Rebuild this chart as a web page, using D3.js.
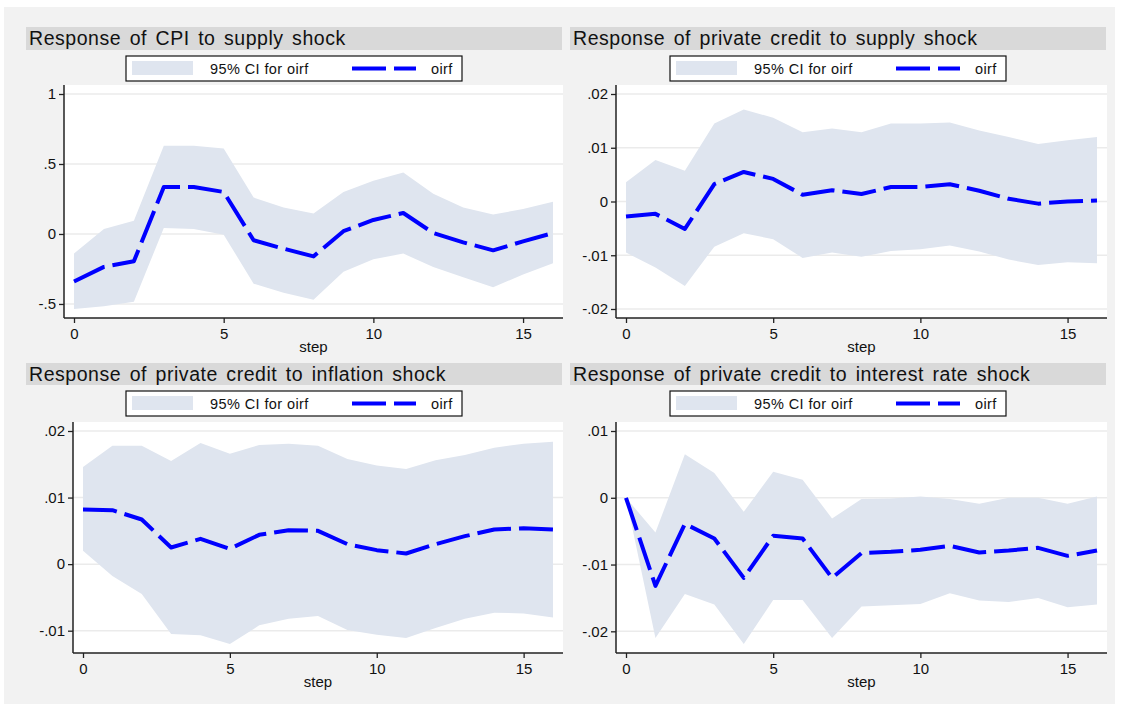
<!DOCTYPE html>
<html>
<head>
<meta charset="utf-8">
<script src="https://cdn.jsdelivr.net/npm/d3@7/dist/d3.min.js"></script>
<style>
  body { margin: 0; background: #ffffff; }
  svg { display: block; }
  text { font-family: "Liberation Sans", Arial, sans-serif; fill: #111; }
</style>
</head>
<body>
<div id="chart"></div>
<script>
// Data
var steps = [0, 1, 2, 3, 4, 5, 6, 7, 8, 9, 10, 11, 12, 13, 14, 15, 16];
var xTicks = [0, 5, 10, 15];

var titles = [
  "Response of CPI to supply shock",
  "Response of private credit to supply shock",
  "Response of private credit to inflation shock",
  "Response of private credit to interest rate shock"
];
var legendLabels = ["95% CI for oirf", "oirf"];
var xAxisTitle = "step";

// CPI to supply shock
var cpiSupplyOirf  = [-0.34, -0.235, -0.195, 0.335, 0.335, 0.30, -0.045, -0.105, -0.16, 0.02, 0.10, 0.15, 0.007, -0.06, -0.117, -0.053, 0.007];
var cpiSupplyLower = [-0.536, -0.517, -0.484, 0.043, 0.036, -0.005, -0.355, -0.42, -0.47, -0.27, -0.18, -0.14, -0.236, -0.31, -0.38, -0.29, -0.21];
var cpiSupplyUpper = [-0.14, 0.035, 0.095, 0.63, 0.63, 0.61, 0.26, 0.19, 0.147, 0.30, 0.38, 0.44, 0.288, 0.19, 0.14, 0.178, 0.23];
var cpiTicks = [-0.5, 0, 0.5, 1];
var cpiTickLabels = ["-.5", "0", ".5", "1"];

// private credit to supply shock
var creditSupplyOirf  = [-0.0028, -0.0023, -0.0051, 0.00325, 0.0055, 0.0042, 0.00125, 0.0021, 0.0014, 0.0027, 0.0027, 0.0032, 0.002, 0.0005, -0.0004, 0.0, 0.0002];
var creditSupplyLower = [-0.0095, -0.0123, -0.0157, -0.0084, -0.0059, -0.007, -0.0105, -0.0095, -0.0103, -0.0092, -0.0089, -0.0082, -0.0093, -0.0108, -0.0118, -0.0113, -0.0115];
var creditSupplyUpper = [0.0036, 0.0077, 0.0057, 0.0145, 0.0171, 0.0156, 0.0129, 0.0136, 0.0129, 0.0145, 0.0145, 0.0147, 0.0132, 0.012, 0.0107, 0.0114, 0.012];
var creditSupplyTicks = [-0.02, -0.01, 0, 0.01, 0.02];
var creditSupplyTickLabels = ["-.02", "-.01", "0", ".01", ".02"];

// private credit to inflation shock
var creditInflationOirf  = [0.0082, 0.0081, 0.0067, 0.0025, 0.0038, 0.0023, 0.0044, 0.0051, 0.005, 0.003, 0.0021, 0.0016, 0.003, 0.0042, 0.0052, 0.0054, 0.0052];
var creditInflationLower = [0.002, -0.0018, -0.0045, -0.0105, -0.0107, -0.012, -0.0092, -0.0082, -0.0078, -0.0099, -0.0106, -0.0111, -0.0096, -0.0082, -0.0073, -0.0074, -0.008];
var creditInflationUpper = [0.0146, 0.0178, 0.0178, 0.0155, 0.0182, 0.0166, 0.0179, 0.0181, 0.0178, 0.0158, 0.0148, 0.0143, 0.0156, 0.0164, 0.0175, 0.0181, 0.0184];
var creditInflationTicks = [-0.01, 0, 0.01, 0.02];
var creditInflationTickLabels = ["-.01", "0", ".01", ".02"];

// private credit to interest rate shock
var creditRateOirf  = [0, -0.0132, -0.0039, -0.0061, -0.012, -0.0057, -0.0061, -0.012, -0.0083, -0.0081, -0.0078, -0.0072, -0.0082, -0.0079, -0.0075, -0.0087, -0.0079];
var creditRateLower = [0, -0.021, -0.0144, -0.016, -0.0219, -0.0153, -0.0153, -0.021, -0.0163, -0.0161, -0.0159, -0.0143, -0.0154, -0.0156, -0.015, -0.0164, -0.016];
var creditRateUpper = [0, -0.0052, 0.0065, 0.0037, -0.0021, 0.0039, 0.0027, -0.0031, -0.0002, -0.0001, 0.0002, -0.0002, -0.0009, 0, 0, -0.0009, 0.0002];
var creditRateTicks = [-0.02, -0.01, 0, 0.01];
var creditRateTickLabels = ["-.02", "-.01", "0", ".01"];

// Layout
var fullWidth = 1125;
var fullHeight = 704;
var bandColor = "#dfe5ef";
var lineColor = "#0000ff";
var dashPattern = "34,8";

var panelBoxes = [
  { x0: 26,  x1: 562,  titleY: 27,  titleH: 23, legendY: 56,  axisX: 64,  plotTop: 85,  plotBottom: 318 },
  { x0: 570, x1: 1106, titleY: 27,  titleH: 23, legendY: 56,  axisX: 616, plotTop: 85,  plotBottom: 318 },
  { x0: 26,  x1: 562,  titleY: 363, titleH: 22, legendY: 391, axisX: 73,  plotTop: 422, plotBottom: 653 },
  { x0: 570, x1: 1106, titleY: 363, titleH: 22, legendY: 391, axisX: 616, plotTop: 422, plotBottom: 653 }
];

function DrawPanel(svg, box, title, oirf, lower, upper, ticks, tickLabels) {
  var g = svg.append('g');
  var plotLeft = box.axisX;
  var plotRight = box.x1 + 1;
  var cx = (box.x0 + box.x1) / 2;

  // Title band
  g.append('rect')
    .attr('x', box.x0).attr('y', box.titleY)
    .attr('width', box.x1 - box.x0).attr('height', box.titleH)
    .attr('fill', '#d9d9d9');
  g.append('text')
    .attr('x', box.x0 + 3)
    .attr('y', box.titleY + 18)
    .style('font-size', '19.5px')
    .style('letter-spacing', '0.55px')
    .style('word-spacing', '2.5px')
    .text(title);

  // Legend
  var legW = 336, legH = 25;
  var leg = g.append('g')
    .attr('transform', 'translate(' + (cx - legW / 2) + ',' + box.legendY + ')');
  leg.append('rect')
    .attr('width', legW).attr('height', legH)
    .attr('fill', '#ffffff').attr('stroke', '#111').attr('stroke-width', 1.2);
  leg.append('rect')
    .attr('x', 6).attr('y', 5).attr('width', 61).attr('height', 14)
    .attr('fill', bandColor);
  leg.append('text')
    .attr('x', 84).attr('y', 17.5)
    .style('font-size', '14.5px').style('letter-spacing', '0.4px')
    .text(legendLabels[0]);
  leg.append('line')
    .attr('x1', 226).attr('x2', 290).attr('y1', 12.5).attr('y2', 12.5)
    .attr('stroke', lineColor).attr('stroke-width', 4)
    .attr('stroke-dasharray', dashPattern);
  leg.append('text')
    .attr('x', 305).attr('y', 17.5)
    .style('font-size', '14.5px').style('letter-spacing', '0.4px')
    .text(legendLabels[1]);

  // Plot region
  g.append('rect')
    .attr('x', plotLeft).attr('y', box.plotTop)
    .attr('width', plotRight - plotLeft).attr('height', box.plotBottom - box.plotTop)
    .attr('fill', '#ffffff');

  var xScale = d3.scaleLinear()
    .domain([steps[0], steps[steps.length - 1]])
    .range([plotLeft + 10, plotRight - 10]);
  var yScale = d3.scaleLinear()
    .domain(d3.extent(ticks.concat(lower, upper)))
    .range([box.plotBottom - 9, box.plotTop + 9]);

  // grid lines
  g.selectAll('.grid')
    .data(ticks)
    .enter()
    .append('line')
      .attr('x1', plotLeft).attr('x2', plotRight)
      .attr('y1', function(d) { return yScale(d); })
      .attr('y2', function(d) { return yScale(d); })
      .attr('stroke', '#ebebeb').attr('stroke-width', 1.5);

  // CI band
  var area = d3.area()
    .x(function(d, i) { return xScale(steps[i]); })
    .y0(function(d, i) { return yScale(lower[i]); })
    .y1(function(d, i) { return yScale(upper[i]); });
  g.append('path')
    .datum(steps)
    .attr('d', area)
    .attr('fill', bandColor);

  // oirf line
  var line = d3.line()
    .x(function(d, i) { return xScale(steps[i]); })
    .y(function(d) { return yScale(d); });
  g.append('path')
    .datum(oirf)
    .attr('d', line)
    .attr('fill', 'none')
    .attr('stroke', lineColor)
    .attr('stroke-width', 4)
    .attr('stroke-linejoin', 'round')
    .attr('stroke-dasharray', dashPattern);

  // axes
  var yAxis = d3.axisLeft(yScale)
    .tickValues(ticks)
    .tickFormat(function(d, i) { return tickLabels[i]; })
    .tickSize(5).tickSizeOuter(0).tickPadding(3);
  var yg = g.append('g')
    .attr('transform', 'translate(' + plotLeft + ',0)')
    .call(yAxis);

  var xAxis = d3.axisBottom(xScale)
    .tickValues(xTicks)
    .tickSize(5).tickSizeOuter(0).tickPadding(5);
  var xg = g.append('g')
    .attr('transform', 'translate(0,' + box.plotBottom + ')')
    .call(xAxis);

  [yg, xg].forEach(function(ax) {
    ax.select('.domain').remove();
    ax.selectAll('.tick line').attr('stroke', '#222').attr('stroke-width', 1.3);
    ax.selectAll('.tick text')
      .style('font-size', '15px')
      .style('font-family', '"Liberation Sans", Arial, sans-serif')
      .attr('fill', '#111');
  });

  g.append('line')
    .attr('x1', plotLeft).attr('x2', plotLeft)
    .attr('y1', box.plotTop).attr('y2', box.plotBottom)
    .attr('stroke', '#222').attr('stroke-width', 1.5);
  g.append('line')
    .attr('x1', plotLeft).attr('x2', plotRight)
    .attr('y1', box.plotBottom).attr('y2', box.plotBottom)
    .attr('stroke', '#222').attr('stroke-width', 1.5);

  g.append('text')
    .attr('x', (plotLeft + plotRight) / 2)
    .attr('y', box.plotBottom + 34)
    .attr('text-anchor', 'middle')
    .style('font-size', '15px')
    .text(xAxisTitle);
}

var svg = d3.select('#chart')
  .append('svg')
  .attr('width', fullWidth)
  .attr('height', fullHeight);

svg.append('rect')
  .attr('x', 4).attr('y', 7)
  .attr('width', 1111).attr('height', fullHeight - 7)
  .attr('fill', '#f2f2f2');

DrawPanel(svg, panelBoxes[0], titles[0], cpiSupplyOirf, cpiSupplyLower, cpiSupplyUpper, cpiTicks, cpiTickLabels);
DrawPanel(svg, panelBoxes[1], titles[1], creditSupplyOirf, creditSupplyLower, creditSupplyUpper, creditSupplyTicks, creditSupplyTickLabels);
DrawPanel(svg, panelBoxes[2], titles[2], creditInflationOirf, creditInflationLower, creditInflationUpper, creditInflationTicks, creditInflationTickLabels);
DrawPanel(svg, panelBoxes[3], titles[3], creditRateOirf, creditRateLower, creditRateUpper, creditRateTicks, creditRateTickLabels);
</script>
</body>
</html>
